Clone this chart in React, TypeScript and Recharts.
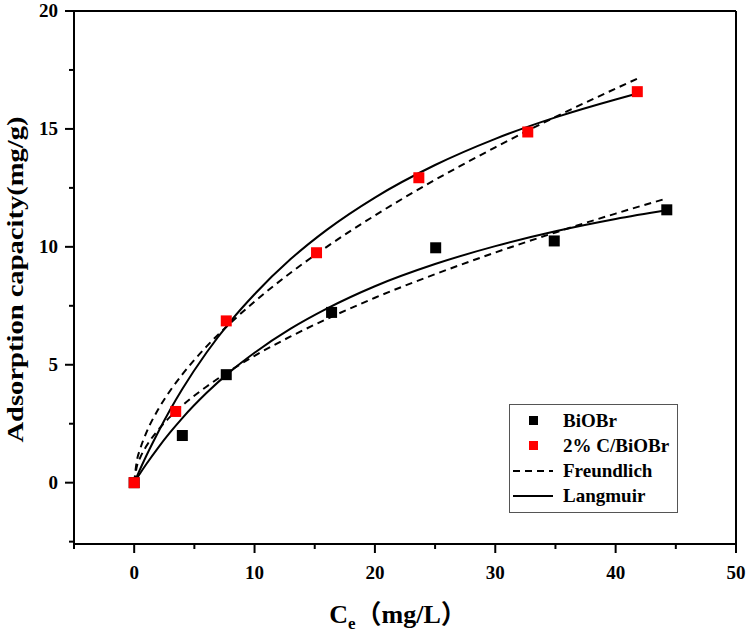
import { ComposedChart, Line, Scatter, XAxis, YAxis, ReferenceLine, Legend } from "recharts";

// measured points
const ceBiOBr = [0, 4.0, 7.65, 16.4, 25.05, 34.9, 44.25];
const qBiOBr = [0, 2.0, 4.58, 7.22, 9.96, 10.25, 11.57];
const ceDoped = [0, 3.45, 7.65, 15.15, 23.65, 32.7, 41.8];
const qDoped = [0, 3.02, 6.86, 9.75, 12.93, 14.87, 16.58];

// fitted curves
const fitCeDoped = [0, 0.2, 0.5, 1, 2, 3, 4, 6, 8, 10, 13, 16, 20, 25, 30, 35, 40, 41.8];
const langDoped = [0, 0.23, 0.58, 1.13, 2.15, 3.1, 3.97, 5.51, 6.84, 7.99, 9.48, 10.72, 12.09, 13.47, 14.58, 15.49, 16.25, 16.5];
const freDoped = [0, 0.86, 1.43, 2.11, 3.11, 3.91, 4.59, 5.77, 6.77, 7.68, 8.9, 10.0, 11.33, 12.84, 14.22, 15.51, 16.71, 17.13];
const fitCeBiOBr = [0, 0.2, 0.5, 1, 2, 3, 4, 6, 8, 10, 13, 16, 20, 25, 30, 35, 40, 44.3];
const langBiOBr = [0, 0.16, 0.4, 0.78, 1.49, 2.14, 2.74, 3.8, 4.72, 5.51, 6.53, 7.38, 8.33, 9.27, 10.03, 10.66, 11.18, 11.56];
const freBiOBr = [0, 0.64, 1.06, 1.54, 2.24, 2.8, 3.27, 4.07, 4.76, 5.38, 6.2, 6.94, 7.84, 8.84, 9.76, 10.61, 11.41, 12.06];

const xTicks = [-5, 0, 5, 10, 15, 20, 25, 30, 35, 40, 45, 50];
const xLabels = [0, 10, 20, 30, 40, 50];
const yTicks = [-2.5, 0, 2.5, 5, 7.5, 10, 12.5, 15, 17.5, 20];
const yLabels = [0, 5, 10, 15, 20];

const zip = (xs: number[], ys: number[]) => xs.map((x, i) => ({ x, y: ys[i] }));

const FONT = "'Liberation Serif', 'Times New Roman', serif";

function Square({ cx, cy, fill }: any) {
  return <rect x={cx - 5.5} y={cy - 5.5} width={11} height={11} fill={fill} />;
}

function XTick({ x, y, payload }: any) {
  const major = xLabels.includes(payload.value);
  return (
    <g>
      <line x1={x} y1={y} x2={x} y2={y + (major ? 9 : 5)} stroke="#000" strokeWidth={2} />
      {major && (
        <text x={x} y={y + 35} textAnchor="middle" fontFamily={FONT} fontWeight="bold" fontSize={19} fill="#000">
          {payload.value}
        </text>
      )}
    </g>
  );
}

function YTick({ x, y, payload }: any) {
  const major = yLabels.includes(payload.value);
  return (
    <g>
      <line x1={x} y1={y} x2={x - (major ? 9 : 5)} y2={y} stroke="#000" strokeWidth={2} />
      {major && (
        <text x={x - 16} y={y + 6} textAnchor="end" fontFamily={FONT} fontWeight="bold" fontSize={19} fill="#000">
          {payload.value}
        </text>
      )}
    </g>
  );
}

function XTitle({ viewBox }: any) {
  const cx = viewBox.x + viewBox.width / 2 - 7;
  const y = viewBox.y + 79;
  return (
    <text x={cx} y={y} textAnchor="middle" fontFamily={FONT} fontWeight="bold" fontSize={26} fill="#000">
      C<tspan fontSize={17} dy={6}>e</tspan>
      <tspan dy={-6} fontFamily="'Noto Sans CJK SC', sans-serif">（</tspan>mg/L
      <tspan fontFamily="'Noto Sans CJK SC', sans-serif">）</tspan>
    </text>
  );
}

function YTitle({ viewBox }: any) {
  const cx = 23;
  const cy = viewBox.y + viewBox.height / 2 + 2;
  return (
    <text
      x={cx}
      y={cy}
      transform={`rotate(-90 ${cx} ${cy})`}
      textAnchor="middle"
      fontFamily={FONT}
      fontWeight="bold"
      fontSize={24}
      textLength={326}
      lengthAdjust="spacingAndGlyphs"
      fill="#000"
    >
      Adsorption capacity(mg/g)
    </text>
  );
}

function LegendBox() {
  const row = { display: "flex", alignItems: "center", height: 25 } as const;
  const sym = { width: 40, display: "flex", justifyContent: "center", marginRight: 10 } as const;
  const txt = { fontFamily: FONT, fontWeight: "bold" as const, fontSize: 19, color: "#000" };
  return (
    <div style={{ border: "1px solid #555", background: "#fff", padding: "3px 0 4px 3px", width: 164, boxSizing: "content-box" }}>
      <div style={row}>
        <div style={sym}><div style={{ width: 9, height: 9, background: "#000" }} /></div>
        <span style={txt}>BiOBr</span>
      </div>
      <div style={row}>
        <div style={sym}><div style={{ width: 9, height: 9, background: "#ff0000" }} /></div>
        <span style={txt}>2% C/BiOBr</span>
      </div>
      <div style={row}>
        <div style={sym}>
          <svg width={40} height={4}><line x1={0} y1={2} x2={40} y2={2} stroke="#000" strokeWidth={2} strokeDasharray="7 5" /></svg>
        </div>
        <span style={txt}>Freundlich</span>
      </div>
      <div style={row}>
        <div style={sym}>
          <svg width={40} height={4}><line x1={0} y1={2} x2={40} y2={2} stroke="#000" strokeWidth={2} /></svg>
        </div>
        <span style={txt}>Langmuir</span>
      </div>
    </div>
  );
}

export default function App() {
  return (
    <div style={{ position: "absolute", left: 0, top: 0, background: "#fff" }}>
      <ComposedChart width={750} height={633} margin={{ top: 11, right: 14, left: 0, bottom: 0 }}>
        <XAxis
          type="number"
          dataKey="x"
          domain={[-5, 50]}
          ticks={xTicks}
          interval={0}
          allowDataOverflow
          tickSize={0}
          tickMargin={0}
          tickLine={false}
          tick={<XTick />}
          height={89}
          axisLine={{ stroke: "#000", strokeWidth: 2 }}
          label={(p: any) => <XTitle {...p} />}
        />
        <YAxis
          type="number"
          dataKey="y"
          domain={[-2.6, 20]}
          ticks={yTicks}
          interval={0}
          allowDataOverflow
          tickSize={0}
          tickMargin={0}
          tickLine={false}
          tick={<YTick />}
          width={74}
          axisLine={{ stroke: "#000", strokeWidth: 2 }}
          label={(p: any) => <YTitle {...p} />}
        />
        <ReferenceLine y={20} stroke="#000" strokeWidth={2} />
        <ReferenceLine x={50} stroke="#000" strokeWidth={2} />
        <Legend
          layout="vertical"
          align="center"
          verticalAlign="middle"
          wrapperStyle={{ left: 509, top: 404, width: 168 }}
          content={() => <LegendBox />}
        />
        <Line data={zip(fitCeBiOBr, freBiOBr)} dataKey="y" type="monotone" stroke="#000" strokeWidth={2} strokeDasharray="7 5" dot={false} isAnimationActive={false} />
        <Line data={zip(fitCeBiOBr, langBiOBr)} dataKey="y" type="monotone" stroke="#000" strokeWidth={2} dot={false} isAnimationActive={false} />
        <Line data={zip(fitCeDoped, freDoped)} dataKey="y" type="monotone" stroke="#000" strokeWidth={2} strokeDasharray="7 5" dot={false} isAnimationActive={false} />
        <Line data={zip(fitCeDoped, langDoped)} dataKey="y" type="monotone" stroke="#000" strokeWidth={2} dot={false} isAnimationActive={false} />
        <Scatter data={zip(ceBiOBr, qBiOBr)} dataKey="y" fill="#000" shape={<Square />} isAnimationActive={false} />
        <Scatter data={zip(ceDoped, qDoped)} dataKey="y" fill="#ff0000" shape={<Square />} isAnimationActive={false} />
      </ComposedChart>
    </div>
  );
}
